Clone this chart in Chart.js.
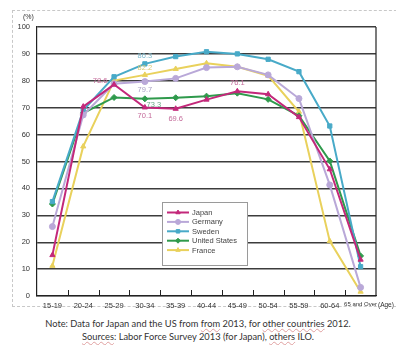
<!DOCTYPE html>
<html>
<head>
<meta charset="utf-8">
<script src="https://cdn.jsdelivr.net/npm/chart.js@4"></script>
<style>
  html, body { margin: 0; padding: 0; background: #fff; }
  #wrap { position: relative; width: 396px; height: 345px; overflow: hidden; }
  #frame { position: absolute; left: 12px; top: 10px; width: 400px; height: 297px;
           border: 1px dashed #c8c8c8; box-sizing: border-box; }
  #chart { position: absolute; left: 0; top: 0; }
  #note { position: absolute; left: 0; top: 317px; width: 396px; text-align: center;
          font-family: Lato, "Open Sans", sans-serif; font-size: 9.3px; line-height: 13px; color: #333; }
  .sq { text-decoration: underline wavy #e0a0a0; text-decoration-thickness: 0.5px; }
</style>
</head>
<body>
<div id="wrap">
  <div id="frame"></div>
  <canvas id="chart" width="396" height="312"></canvas>
  <div id="note">
    Note: Data for Japan and the US from <span class="sq">from</span> 2013, for <span class="sq">other countries</span> 2012.<br>
    <span class="sq">Sources</span>: Labor Force Survey 2013 (for Japan), <span class="sq">others</span> ILO.
  </div>
</div>
<script>
// age groups (x axis)
const ageGroups = ["15-19", "20-24", "25-29", "30-34", "35-39", "40-44", "45-49", "50-54", "55-59", "60-64", "65 and Over"];
const yTicks = [0, 10, 20, 30, 40, 50, 60, 70, 80, 90, 100];

// labour force participation rate (%)
const japan = [15.2, 70.4, 78.6, 70.1, 69.6, 73.0, 76.1, 75.0, 66.5, 47.1, 13.5];
const germany = [25.8, 67.3, 78.9, 79.7, 80.9, 84.9, 85.2, 82.2, 73.4, 41.3, 3.2];
const sweden = [35.1, 69.0, 81.5, 86.3, 89.0, 90.8, 90.0, 88.0, 83.4, 63.2, 10.9];
const unitedStates = [34.2, 68.0, 73.8, 73.3, 73.7, 74.3, 75.4, 73.1, 67.0, 50.2, 14.9];
const france = [11.2, 55.6, 80.1, 82.2, 84.4, 86.5, 85.2, 81.9, 68.5, 20.4, 1.6];

// value labels printed in the chart: [dataset index, point index, text, dx, dy]
const valueLabels = [
  [0, 2, "78.6", -14, -4],
  [2, 3, "86.3", 0, -8],
  [4, 3, "82.2", 0, -7],
  [1, 3, "79.7", 0, 8],
  [3, 3, "73.3", 9, 6],
  [0, 3, "70.1", 0, 9],
  [0, 4, "69.6", 0, 10],
  [0, 6, "76.1", 0, -8]
];
const labelColors = ["#c46b9a", "#a79fc2", "#7fbcd0", "#6aaa86", "#d9c772"];

const series = [
  { label: "Japan", data: japan, color: "#c3287a", style: "triangle" },
  { label: "Germany", data: germany, color: "#b9a8d8", style: "circle" },
  { label: "Sweden", data: sweden, color: "#48aac8", style: "rect" },
  { label: "United States", data: unitedStates, color: "#2f9a4c", style: "rectRot" },
  { label: "France", data: france, color: "#e9d15c", style: "triangle" }
];

const extras = {
  id: "extras",
  afterDatasetsDraw(chart) {
    const ctx = chart.ctx;
    const a = chart.chartArea;
    const xs = chart.scales.x;
    ctx.save();
    // frame right side
    ctx.strokeStyle = "#222";
    ctx.lineWidth = 1.2;
    ctx.beginPath();
    ctx.moveTo(a.right, a.top);
    ctx.lineTo(a.right, a.bottom);
    ctx.stroke();
    // tick marks between categories, pointing up into the plot
    ctx.lineWidth = 1;
    for (let i = 1; i < ageGroups.length; i++) {
      const x = Math.round((xs.getPixelForValue(i - 1) + xs.getPixelForValue(i)) / 2) + 0.5;
      ctx.beginPath();
      ctx.moveTo(x, a.bottom);
      ctx.lineTo(x, a.bottom - 6);
      ctx.stroke();
    }
    // value labels
    ctx.font = "7.5px 'Liberation Sans', sans-serif";
    ctx.textAlign = "center";
    ctx.textBaseline = "middle";
    valueLabels.forEach(([d, i, t, dx, dy]) => {
      const p = chart.getDatasetMeta(d).data[i];
      ctx.fillStyle = labelColors[d];
      ctx.fillText(t, p.x + dx, p.y + dy);
    });
    // legend box
    const lx = 162, ly = 202, lw = 85, lh = 63;
    ctx.fillStyle = "#fff";
    ctx.fillRect(lx, ly, lw, lh);
    ctx.strokeStyle = "#9a9a9a";
    ctx.lineWidth = 1;
    ctx.strokeRect(lx + 0.5, ly + 0.5, lw, lh);
    ctx.font = "7.5px 'Liberation Sans', sans-serif";
    ctx.textAlign = "left";
    chart.data.datasets.forEach((ds, k) => {
      const y = 212.5 + k * 9.4;
      ctx.strokeStyle = ds.borderColor;
      ctx.lineWidth = 2;
      ctx.beginPath();
      ctx.moveTo(167, y);
      ctx.lineTo(189, y);
      ctx.stroke();
      ctx.fillStyle = ds.borderColor;
      ctx.lineWidth = 1;
      Chart.helpers.drawPoint(ctx, { pointStyle: ds.pointStyle, radius: 2.5, borderWidth: 1 }, 178, y);
      ctx.fillStyle = "#444";
      ctx.fillText(ds.label, 192, y + 0.5);
    });
    // axis captions
    ctx.fillStyle = "#333";
    ctx.font = "7px 'Liberation Sans', sans-serif";
    ctx.textAlign = "left";
    ctx.fillText("(%)", 23, 17);
    ctx.font = "6.5px 'Liberation Sans Narrow', 'Liberation Sans', sans-serif";
    ctx.fillText("(Age)", 378, 305);
    ctx.restore();
  }
};

new Chart(document.getElementById("chart"), {
  type: "line",
  data: {
    labels: ageGroups,
    datasets: series.map((s) => ({
      label: s.label,
      data: s.data,
      borderColor: s.color,
      backgroundColor: s.color,
      pointStyle: s.style,
      pointRadius: 3,
      pointBorderWidth: 1,
      borderWidth: 2,
      tension: 0
    }))
  },
  options: {
    responsive: false,
    animation: false,
    devicePixelRatio: 1,
    layout: { padding: { left: 0, right: 20, top: 27, bottom: 0 } },
    plugins: { legend: { display: false }, tooltip: { enabled: false } },
    scales: {
      x: {
        offset: true,
        grid: { display: false, drawTicks: false },
        border: { color: "#222", width: 1.2 },
        ticks: {
          color: "#333",
          padding: 5,
          maxRotation: 0,
          autoSkip: false,
          font: (c) => ({ family: "'Liberation Sans', sans-serif", size: c.index === 10 ? 6 : 7.5 })
        },
        afterFit: (s) => { s.height = 16; }
      },
      y: {
        min: 0,
        max: 100,
        afterBuildTicks: (s) => { s.ticks = yTicks.map((v) => ({ value: v })); },
        grid: { color: "#3c3c3c", lineWidth: 1.4, drawTicks: false },
        border: { color: "#222", width: 1.2 },
        ticks: { color: "#333", padding: 7, font: { family: "'Liberation Sans', sans-serif", size: 7.5 } },
        afterFit: (s) => { s.width = 37; }
      }
    }
  },
  plugins: [extras]
});
</script>
</body>
</html>
